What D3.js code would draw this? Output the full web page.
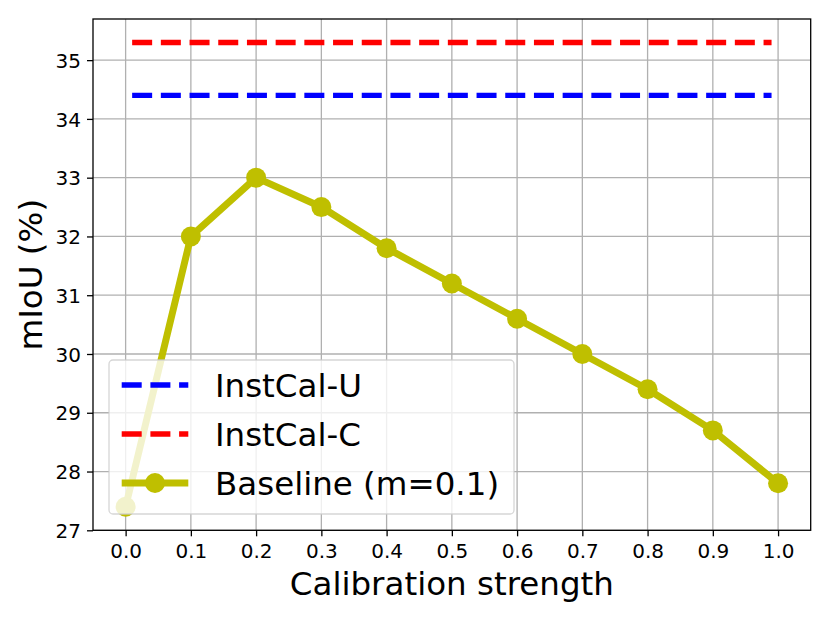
<!DOCTYPE html>
<html>
<head>
<meta charset="utf-8">
<script src="https://cdn.jsdelivr.net/npm/d3@7"></script>
<style>
  body { margin: 0; background: #fff; }
  svg { font-family: 'DejaVu Sans', sans-serif; display: block; }
</style>
</head>
<body>
<div id="chart"></div>
<script>
// datos del gráfico
const strengths = [0.0, 0.1, 0.2, 0.3, 0.4, 0.5, 0.6, 0.7, 0.8, 0.9, 1.0]
const baseline = [27.4, 32.0, 33.0, 32.5, 31.8, 31.2, 30.6, 30.0, 29.4, 28.7, 27.8]
const instCalU = 34.4
const instCalC = 35.3
const refRange = [0.01, 0.99]
const xTicks = [0.0, 0.1, 0.2, 0.3, 0.4, 0.5, 0.6, 0.7, 0.8, 0.9, 1.0]
const yTicks = [27, 28, 29, 30, 31, 32, 33, 34, 35]
const legendLabels = ['InstCal-U', 'InstCal-C', 'Baseline (m=0.1)']

const W = 830
const H = 617
const margin = { top: 19, right: 19.3, bottom: 86.7, left: 93 }
const width = W - margin.left - margin.right
const height = H - margin.top - margin.bottom

const svg = d3.select('#chart')
  .append('svg')
  .attr('width', W)
  .attr('height', H)

const g = svg.append('g')
  .attr('transform', `translate(${margin.left},${margin.top})`)

const x = d3.scaleLinear().domain([-0.05, 1.05]).range([0, width])
const y = d3.scaleLinear().domain([27, 35.7]).range([height, 0])

// rejilla
g.append('g')
  .selectAll('line')
  .data(xTicks)
  .join('line')
  .attr('x1', d => x(d)).attr('x2', d => x(d))
  .attr('y1', 0).attr('y2', height)
  .attr('stroke', '#b0b0b0').attr('stroke-width', 1.3)

g.append('g')
  .selectAll('line')
  .data(yTicks)
  .join('line')
  .attr('x1', 0).attr('x2', width)
  .attr('y1', d => y(d)).attr('y2', d => y(d))
  .attr('stroke', '#b0b0b0').attr('stroke-width', 1.3)

// ejes
const xAxis = g.append('g')
  .attr('transform', `translate(0,${height})`)
  .call(d3.axisBottom(x).tickValues(xTicks).tickFormat(d3.format('.1f')).tickSize(6).tickSizeOuter(0).tickPadding(8))
const yAxis = g.append('g')
  .call(d3.axisLeft(y).tickValues(yTicks).tickFormat(d3.format('d')).tickSize(6).tickSizeOuter(0).tickPadding(6))

;[xAxis, yAxis].forEach(a => {
  a.select('.domain').remove()
  a.selectAll('line').attr('stroke', '#000').attr('stroke-width', 1.3)
  a.selectAll('text')
    .attr('fill', '#000')
    .style('font-size', '20px')
    .style('font-family', "'DejaVu Sans', sans-serif")
})
yAxis.selectAll('text').attr('dy', '0.36em')

// líneas de referencia
const line = d3.line().x(d => x(d[0])).y(d => y(d[1]))

g.append('path')
  .datum(refRange.map(v => [v, instCalU]))
  .attr('d', line)
  .attr('fill', 'none')
  .attr('stroke', '#0000ff')
  .attr('stroke-width', 5.4)
  .attr('stroke-dasharray', '20,8.7')

g.append('path')
  .datum(refRange.map(v => [v, instCalC]))
  .attr('d', line)
  .attr('fill', 'none')
  .attr('stroke', '#ff0000')
  .attr('stroke-width', 5.4)
  .attr('stroke-dasharray', '20,8.7')

// serie baseline
const baseColor = '#bfbf00'
g.append('path')
  .datum(strengths.map((s, i) => [s, baseline[i]]))
  .attr('d', line)
  .attr('fill', 'none')
  .attr('stroke', baseColor)
  .attr('stroke-width', 7)
  .attr('stroke-linejoin', 'round')

g.append('g')
  .selectAll('circle')
  .data(strengths.map((s, i) => [s, baseline[i]]))
  .join('circle')
  .attr('cx', d => x(d[0]))
  .attr('cy', d => y(d[1]))
  .attr('r', 10)
  .attr('fill', baseColor)

// marco
g.append('rect')
  .attr('width', width).attr('height', height)
  .attr('fill', 'none')
  .attr('stroke', '#000').attr('stroke-width', 1.3)

// leyenda
const lx = 109 - margin.left
const ly = 360 - margin.top
const legend = g.append('g').attr('transform', `translate(${lx},${ly})`)
legend.append('rect')
  .attr('width', 405).attr('height', 154)
  .attr('rx', 4).attr('ry', 4)
  .attr('fill', 'rgba(255,255,255,0.8)')
  .attr('stroke', 'rgba(204,204,204,0.8)')
  .attr('stroke-width', 1.3)

const legendStyles = [
  { color: '#0000ff', dash: '20,8.7', width: 5.4, marker: false },
  { color: '#ff0000', dash: '20,8.7', width: 5.4, marker: false },
  { color: baseColor, dash: null, width: 7, marker: true }
]

legendLabels.forEach((label, i) => {
  const st = legendStyles[i]
  const rowY = 25 + i * 49
  legend.append('line')
    .attr('x1', 12.7).attr('x2', 79.3)
    .attr('y1', rowY).attr('y2', rowY)
    .attr('stroke', st.color)
    .attr('stroke-width', st.width)
    .attr('stroke-dasharray', st.dash)
  if (st.marker) {
    legend.append('circle')
      .attr('cx', 46).attr('cy', rowY).attr('r', 10)
      .attr('fill', st.color)
  }
  legend.append('text')
    .attr('x', 106).attr('y', rowY)
    .attr('dy', '0.36em')
    .style('font-size', '32.5px')
    .attr('fill', '#000')
    .text(label)
})

// títulos de ejes
svg.append('text')
  .attr('x', margin.left + width / 2)
  .attr('y', 595)
  .attr('text-anchor', 'middle')
  .style('font-size', '32.5px')
  .text('Calibration strength')

svg.append('text')
  .attr('transform', `translate(42,${margin.top + height / 2}) rotate(-90)`)
  .attr('text-anchor', 'middle')
  .style('font-size', '32.5px')
  .text('mIoU (%)')
</script>
</body>
</html>
